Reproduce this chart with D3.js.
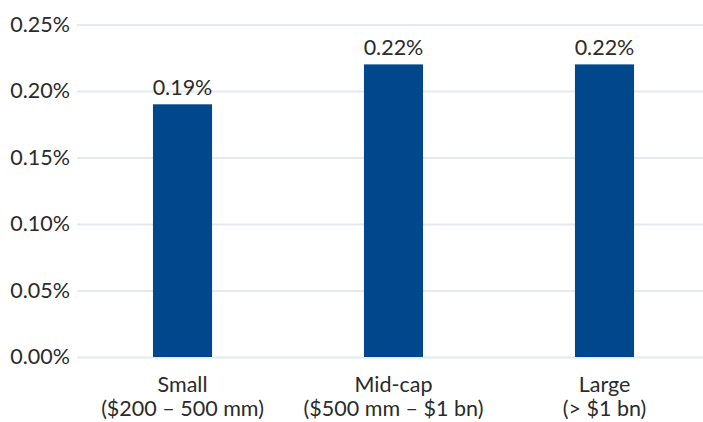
<!DOCTYPE html>
<html>
<head>
<meta charset="utf-8">
<script src="https://cdn.jsdelivr.net/npm/d3@7"></script>
<style>
  html, body { margin: 0; padding: 0; background: #fff; }
  svg text { font-family: Lato, "Open Sans", sans-serif; fill: #2b2b2b; }
</style>
</head>
<body>
<svg id="chart" width="703" height="422"></svg>
<script>
// Market-cap buckets (two-line labels) and their values in percent
const categories = ["Small", "Mid-cap", "Large"];
const subLabels = ["($200 \u2013 500 mm)", "($500 mm \u2013 $1 bn)", "(> $1 bn)"];
const values = [0.19, 0.22, 0.22];
const yTicks = [0, 0.05, 0.10, 0.15, 0.20, 0.25];

const svg = d3.select("#chart");
const plotLeft = 77, plotRight = 710, plotTop = 24.5, plotBottom = 357;
const fontSize = 21.5;

const x = d3.scaleBand()
  .domain(categories)
  .range([plotLeft, plotRight])
  .paddingInner(0.72)
  .paddingOuter(0.36);

const y = d3.scaleLinear()
  .domain([0, 0.25])
  .range([plotBottom, plotTop]);

// Horizontal gridlines with tick labels on the left
const yAxis = d3.axisLeft(y)
  .tickValues(yTicks)
  .tickFormat(d => d.toFixed(2) + "%")
  .tickSize(-(703 - plotLeft))
  .tickPadding(7);

const gy = svg.append("g")
  .attr("transform", `translate(${plotLeft},0)`)
  .call(yAxis);
gy.select(".domain").remove();
gy.selectAll(".tick line")
  .attr("stroke", "#e4eaee")
  .attr("stroke-width", 2);
gy.selectAll(".tick text")
  .attr("font-size", fontSize)
  .attr("fill", "#2b2b2b")
  .style("font-family", "Lato, sans-serif");

// Bars
svg.append("g").selectAll("rect")
  .data(values)
  .join("rect")
  .attr("x", (d, i) => x(categories[i]))
  .attr("width", x.bandwidth())
  .attr("y", d => y(d))
  .attr("height", d => plotBottom - y(d))
  .attr("fill", "#00478b");

// Value labels above bars
svg.append("g").selectAll("text")
  .data(values)
  .join("text")
  .attr("x", (d, i) => x(categories[i]) + x.bandwidth() / 2)
  .attr("y", d => y(d) - 9.5)
  .attr("text-anchor", "middle")
  .attr("font-size", fontSize)
  .text(d => d.toFixed(2) + "%");

// Category labels below the baseline
const cat = svg.append("g").selectAll("text")
  .data(categories)
  .join("text")
  .attr("x", d => x(d) + x.bandwidth() / 2)
  .attr("y", 392)
  .attr("text-anchor", "middle")
  .attr("font-size", fontSize);
cat.append("tspan").text(d => d);
cat.append("tspan")
  .attr("x", d => x(d) + x.bandwidth() / 2)
  .attr("dy", 24)
  .text((d, i) => subLabels[i]);
</script>
</body>
</html>
